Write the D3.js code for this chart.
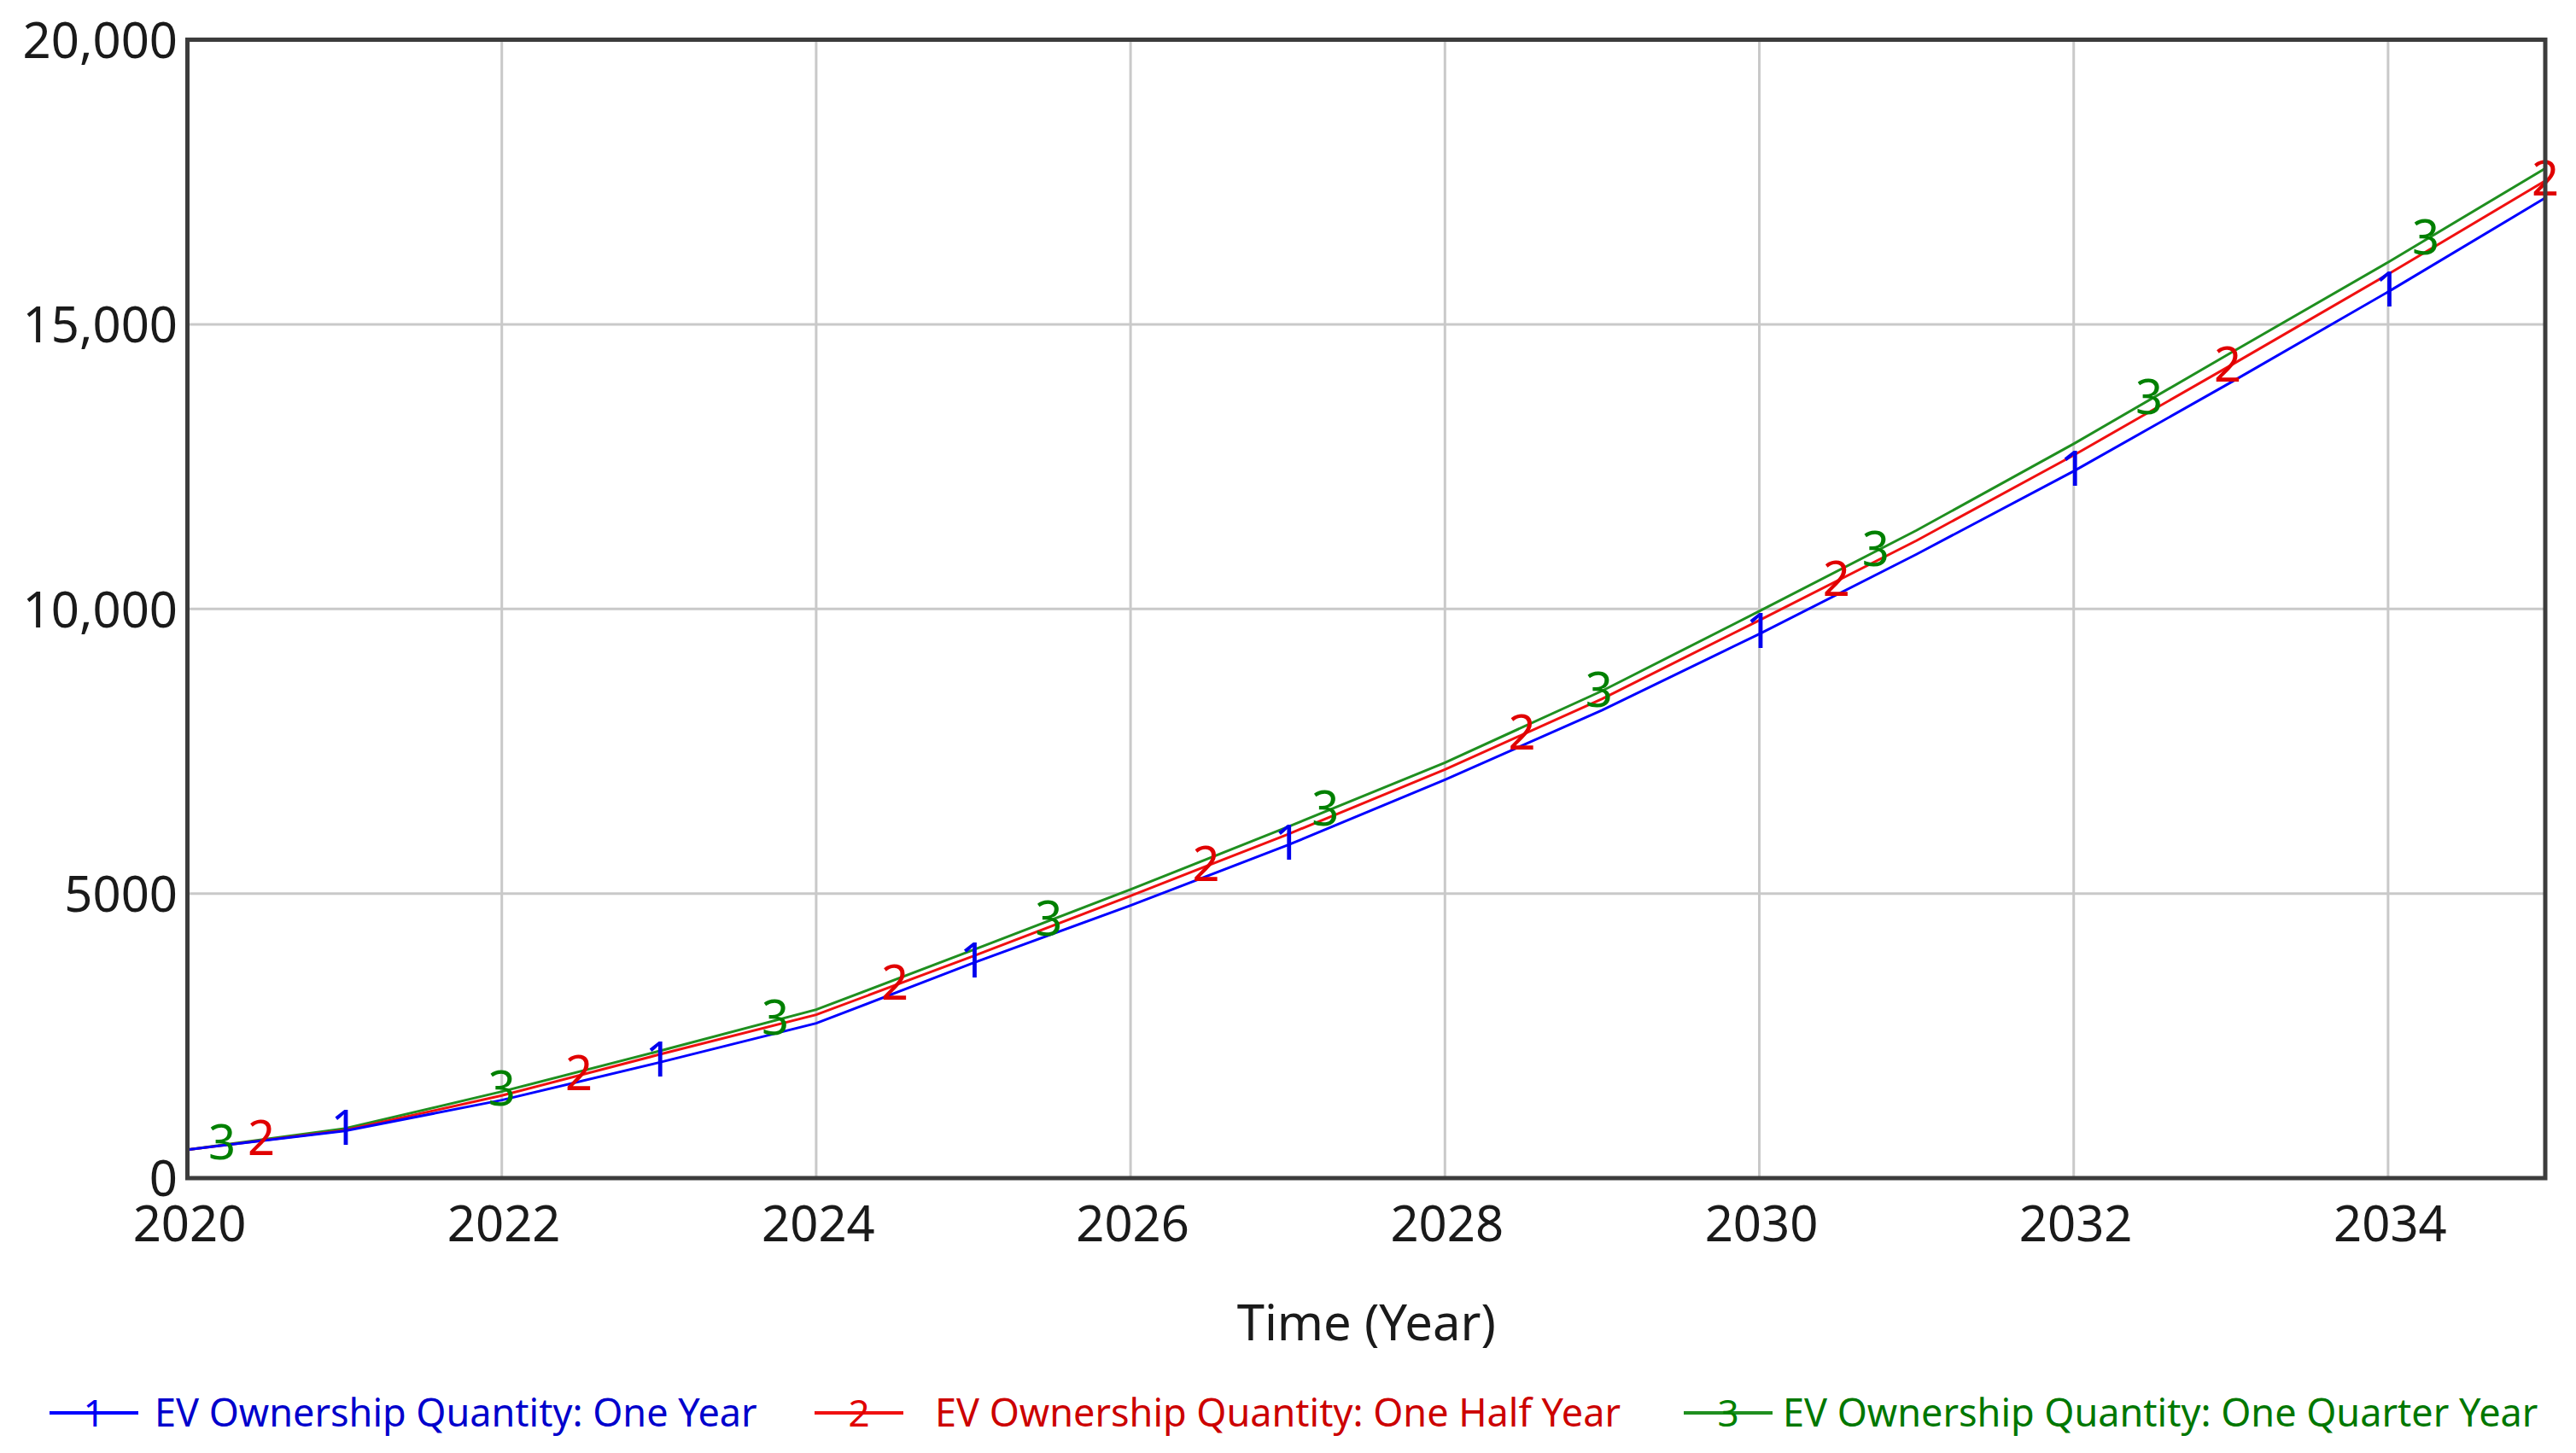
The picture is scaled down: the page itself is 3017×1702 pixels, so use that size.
<!DOCTYPE html>
<html>
<head>
<meta charset="utf-8">
<script src="https://cdn.jsdelivr.net/npm/d3@7"></script>
<style>
  html, body { margin: 0; padding: 0; background: #fff; }
  svg { display: block; }
</style>
</head>
<body>
<svg id="chart" width="3017" height="1702"></svg>
<script>
// ---- data ----
const years = [2020, 2021, 2022, 2023, 2024, 2025, 2026, 2027, 2028, 2029, 2030, 2031, 2032, 2033, 2034, 2035];
const oneYear =     [500, 830, 1370, 2030, 2720, 3780, 4790, 5850, 7000, 8220, 9560, 10960, 12420, 13980, 15570, 17220];
const halfYear =    [500, 840, 1450, 2170, 2870, 3900, 4960, 6040, 7180, 8420, 9800, 11200, 12700, 14280, 15880, 17520];
const quarterYear = [500, 870, 1520, 2230, 2960, 4010, 5070, 6170, 7300, 8560, 9960, 11380, 12900, 14500, 16090, 17740];
const seriesNames = ["EV Ownership Quantity: One Year", "EV Ownership Quantity: One Half Year", "EV Ownership Quantity: One Quarter Year"];
const markerLabels = ["1", "2", "3"];
const oneYearMarks = [2021, 2023, 2025, 2027, 2030, 2032, 2034];
const halfYearMarks = [2020.47, 2022.49, 2024.5, 2026.48, 2028.49, 2030.49, 2032.98, 2035];
const quarterYearMarks = [2020.22, 2022, 2023.74, 2025.48, 2027.24, 2028.98, 2030.74, 2032.48, 2034.24];
const xTicks = [2020, 2022, 2024, 2026, 2028, 2030, 2032, 2034];
const yTicks = [0, 5000, 10000, 15000, 20000];
const yTickLabels = ["0", "5000", "10,000", "15,000", "20,000"];
const xTitle = "Time (Year)";

const series = [
  { name: seriesNames[0], label: markerLabels[0], values: oneYear, marks: oneYearMarks, line: "#0000ff", text: "#0000ee", legendText: "#0000cc" },
  { name: seriesNames[1], label: markerLabels[1], values: halfYear, marks: halfYearMarks, line: "#f01010", text: "#e00000", legendText: "#cc0000" },
  { name: seriesNames[2], label: markerLabels[2], values: quarterYear, marks: quarterYearMarks, line: "#1f8f1f", text: "#008000", legendText: "#007700" }
];

// ---- layout ----
const L = 219.5, R = 2981, T = 46.5, B = 1380;
const FONT = "'Noto Sans', 'Open Sans', sans-serif";
const svg = d3.select("#chart");

const x = d3.scaleLinear().domain([2020, 2035]).range([L, R]);
const y = d3.scaleLinear().domain([0, 20000]).range([B, T]);

// grid
const grid = svg.append("g");
grid.selectAll("line.v").data(xTicks.filter(d => d > 2020)).enter().append("line")
  .attr("x1", d => x(d)).attr("x2", d => x(d)).attr("y1", T).attr("y2", B)
  .attr("stroke", "#c9c9c9").attr("stroke-width", 3);
grid.selectAll("line.h").data(yTicks.filter(d => d > 0 && d < 20000)).enter().append("line")
  .attr("x1", L).attr("x2", R).attr("y1", d => y(d)).attr("y2", d => y(d))
  .attr("stroke", "#c9c9c9").attr("stroke-width", 3);

// x axis labels via d3 axis
const xAxis = d3.axisBottom(x).tickValues(xTicks).tickFormat(d3.format("d")).tickSize(0).tickPadding(0);
const gx = svg.append("g").attr("transform", `translate(2,${B})`).call(xAxis);
gx.select(".domain").remove();
gx.selectAll("text").attr("font-family", FONT).attr("font-size", 58).attr("fill", "#1a1a1a")
  .attr("dy", null).attr("y", 74);

// y axis labels
const yAxis = d3.axisLeft(y).tickValues(yTicks).tickFormat((d, i) => yTickLabels[i]).tickSize(0).tickPadding(0);
const gy = svg.append("g").attr("transform", `translate(208,0)`).call(yAxis);
gy.select(".domain").remove();
gy.selectAll("text").attr("font-family", FONT).attr("font-size", 58).attr("fill", "#1a1a1a")
  .attr("dy", "0.36em").attr("x", 0);

// axis title
svg.append("text").attr("x", (L + R) / 2).attr("y", 1570).attr("text-anchor", "middle")
  .attr("font-family", FONT).attr("font-size", 58).attr("fill", "#1a1a1a").text(xTitle);

// clip
svg.append("clipPath").attr("id", "clip").append("rect")
  .attr("x", L).attr("y", T).attr("width", R - L).attr("height", B - T);

const lineGen = d3.line().x((d, i) => x(years[i])).y(d => y(d));
function valueAt(vals, t) {
  const i = Math.min(Math.max(d3.bisectRight(years, t) - 1, 0), years.length - 2);
  const f = (t - years[i]) / (years[i + 1] - years[i]);
  return vals[i] + f * (vals[i + 1] - vals[i]);
}

const plot = svg.append("g").attr("clip-path", "url(#clip)");
[series[2], series[1], series[0]].forEach(s => {
  plot.append("path").datum(s.values).attr("d", lineGen)
    .attr("fill", "none").attr("stroke", s.line).attr("stroke-width", 3);
});

// markers
const markG = svg.append("g");
series.forEach(s => {
  markG.selectAll(null).data(s.marks).enter().append("text")
    .attr("x", d => x(d)).attr("y", d => y(valueAt(s.values, d)))
    .attr("dy", "0.3em")
    .attr("text-anchor", "middle").attr("font-family", FONT).attr("font-size", 56)
    .attr("fill", s.text).text(s.label);
});

// frame
svg.append("rect").attr("x", L).attr("y", T).attr("width", R - L).attr("height", B - T)
  .attr("fill", "none").attr("stroke", "#3c3c3c").attr("stroke-width", 5);

// legend
const legendX = [58, 954, 1972];
const legendTextX = [181, 1095, 2088];
const legendY = 1655;
series.forEach((s, i) => {
  const g = svg.append("g");
  g.append("line").attr("x1", legendX[i]).attr("x2", legendX[i] + 104)
    .attr("y1", legendY).attr("y2", legendY).attr("stroke", s.line).attr("stroke-width", 4);
  g.append("text").attr("x", legendX[i] + 52).attr("y", legendY).attr("dy", "0.36em")
    .attr("text-anchor", "middle").attr("font-family", FONT).attr("font-size", 44)
    .attr("fill", s.text).text(s.label);
  g.append("text").attr("x", legendTextX[i]).attr("y", 1671)
    .attr("font-family", FONT).attr("font-size", 45).attr("fill", s.legendText).text(s.name);
});
</script>
</body>
</html>
